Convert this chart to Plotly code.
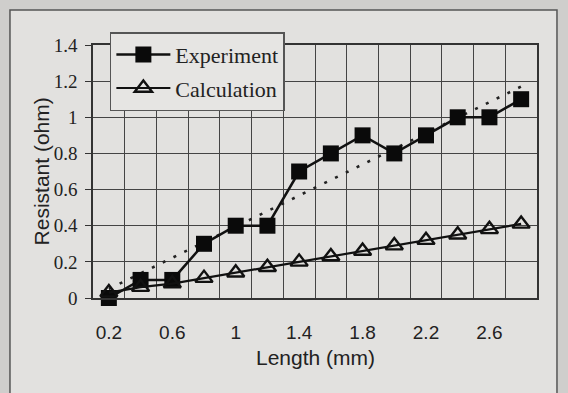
import plotly.graph_objects as go

lengths = [0.2, 0.4, 0.6, 0.8, 1.0, 1.2, 1.4, 1.6, 1.8, 2.0, 2.2, 2.4, 2.6, 2.8]
experiment = [0.0, 0.1, 0.1, 0.3, 0.4, 0.4, 0.7, 0.8, 0.9, 0.8, 0.9, 1.0, 1.0, 1.1]
calculation = [0.03, 0.06, 0.08, 0.11, 0.14, 0.17, 0.20, 0.23, 0.26, 0.29, 0.32, 0.35, 0.38, 0.41]
trend_x = [0.2, 2.8]
trend_y = [0.05, 1.17]
x_tick_labels = ["0.2", "0.6", "1", "1.4", "1.8", "2.2", "2.6"]
x_tick_vals = [0.2, 0.6, 1.0, 1.4, 1.8, 2.2, 2.6]

fig = go.Figure()
fig.add_trace(go.Scatter(x=trend_x, y=trend_y, mode="lines", showlegend=False,
                         line=dict(color="#222", width=2.6, dash="3px,9px")))
fig.add_trace(go.Scatter(x=lengths, y=experiment, mode="lines+markers", name="Experiment",
                         legendgroup="a", cliponaxis=False,
                         line=dict(color="#111", width=2.5),
                         marker=dict(symbol="square", size=16, color="#0a0a0a")))
fig.add_trace(go.Scatter(x=lengths, y=calculation, mode="lines+markers", name="Calculation",
                         legendgroup="b", cliponaxis=False,
                         line=dict(color="#111", width=2.2),
                         marker=dict(symbol="triangle-up-open", size=15, color="#111",
                                     line=dict(width=2.4))))

# outer scanned frame
fig.add_shape(type="rect", xref="paper", yref="paper", x0=-0.187, x1=1.045, y0=-0.6, y1=1.138,
              line=dict(color="#555", width=1.5), fillcolor="#e2e1df", layer="below")

title_font = dict(family="Liberation Sans", size=21, color="#222")
fig.add_annotation(text="Length (mm)", xref="paper", yref="paper", x=0.5, y=-0.236,
                   showarrow=False, font=title_font, xanchor="center", yanchor="middle")
fig.add_annotation(text="Resistant (ohm)", xref="paper", yref="paper", x=-0.115, y=0.5,
                   showarrow=False, font=title_font, textangle=-90,
                   xanchor="center", yanchor="middle")

fig.update_layout(
    width=568, height=393,
    margin=dict(l=93, r=31, t=45, b=95, autoexpand=False),
    paper_bgcolor="#cfcecc",
    plot_bgcolor="#e6e5e3",
    showlegend=True,
    legend=dict(x=0.038, y=1.051, xanchor="left", yanchor="top",
                bgcolor="#e6e5e3", bordercolor="#555", borderwidth=1.5,
                font=dict(family="Liberation Serif", size=22, color="#222"),
                itemwidth=54, tracegroupgap=2, traceorder="grouped"),
    xaxis=dict(range=[0.1, 2.9], tickmode="array", tickvals=x_tick_vals, ticktext=x_tick_labels,
               showgrid=False, zeroline=False, ticks="outside", ticklen=16,
               tickcolor="rgba(0,0,0,0)", automargin=False,
               showline=True, linecolor="#333", linewidth=1.5, mirror=True,
               tickfont=dict(family="Liberation Sans", size=19, color="#222"),
               minor=dict(tickmode="linear", tick0=0.1, dtick=0.2, showgrid=True,
                          gridcolor="#444", gridwidth=1.3)),
    yaxis=dict(range=[0, 1.4], dtick=0.2, showgrid=True, gridcolor="#444", gridwidth=1.3,
               zeroline=False, ticks="outside", ticklen=6, tickcolor="#333",
               ticklabelstandoff=4, automargin=False,
               showline=True, linecolor="#333", linewidth=1.5, mirror=True,
               tickfont=dict(family="Liberation Serif", size=19, color="#222")),
    font=dict(family="Liberation Sans", color="#222"),
)

fig.write_html("out.html", config={"displayModeBar": False},
               post_script="document.body.style.margin='0';")
